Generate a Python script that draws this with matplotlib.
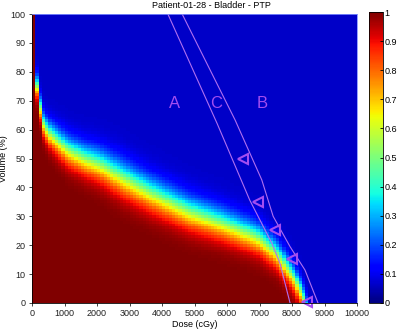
import math
import numpy as np
import matplotlib
matplotlib.use("Agg")
import matplotlib.pyplot as plt

plt.rcParams['font.family'] = ['Liberation Sans', 'DejaVu Sans']

# median DVH (50% probability), with its spread in volume
med_dose = [0, 100, 200, 300, 400, 500, 800, 1026, 1538, 2051, 2708, 3600, 4760, 5800, 6810, 6960, 7480, 7990, 8190, 8350, 8600]
med_vol = [130, 75, 67.5, 62, 60, 58.4, 55.4, 53, 50, 47.8, 43.5, 38, 31.6, 27.5, 23, 22, 17, 9, 4.5, 0, -12]
spread_dose = [0, 300, 600, 1000, 1500, 2700, 4760, 6800, 7500, 8000, 8350]
spread = [3.5, 3.8, 4.3, 4.8, 5, 5.8, 5.5, 5, 4.5, 4.2, 4]
background_level = 0.065

dose_grid = np.arange(0, 10000, 100)
vol_grid = np.arange(0, 101, 1)

# boundary lines between regions A, C and B
line1_dose = [4180, 5700, 6700, 7380, 7630, 7940]
line1_vol = [100, 62, 35.6, 20.7, 13.7, 0]
line2_dose = [4620, 6250, 7070, 7420, 7940, 8400, 8800]
line2_vol = [100, 63.3, 42.6, 30, 19.5, 11.4, 0]

# constraint markers
mark_dose = [6480, 6960, 7480, 7990, 8460]
mark_vol = [50, 35, 25.3, 15.2, 0.3]

region_labels = ['A', 'C', 'B']
label_dose = [4400, 5660, 7080]
label_vol = [69, 69, 69]

purple = '#a34df0'

erf = np.vectorize(math.erf)
v50 = np.interp(dose_grid, med_dose, med_vol)
sd = np.interp(dose_grid, spread_dose, spread)
D, V = np.meshgrid(dose_grid, vol_grid)
prob = 0.5 * (1 + erf((v50[None, :] - V) / (sd[None, :] * math.sqrt(2))))
prob = background_level + (1 - background_level) * prob

fig = plt.figure(figsize=(4, 3.29), dpi=100)
ax = fig.add_axes([32 / 400, 26 / 329, 325 / 400, 289 / 329])
# each cell spans [dose, dose + 100)
x_edges = np.append(dose_grid, dose_grid[-1] + 100)
y_edges = np.append(vol_grid - 0.5, vol_grid[-1] + 0.5)
mesh = ax.pcolormesh(x_edges, y_edges, prob, cmap='jet', vmin=0, vmax=1, shading='flat')
ax.set_xlim(0, 10000)
ax.set_ylim(0, 100)
ax.set_xticks(np.arange(0, 10001, 1000))
ax.set_yticks(np.arange(0, 101, 10))
ax.tick_params(labelsize=6.5, length=2.5, width=0.6, pad=2, colors='#222222')
for s in ['top', 'right']:
    ax.spines[s].set_color('#8090ff')
    ax.spines[s].set_linewidth(0.6)
for s in ['left', 'bottom']:
    ax.spines[s].set_linewidth(0.6)

ax.plot(line1_dose, line1_vol, color='#b070f0', lw=0.8)
ax.plot(line2_dose, line2_vol, color='#b070f0', lw=0.8)
ax.plot(mark_dose, mark_vol, linestyle='none', marker='<', markersize=7,
        markerfacecolor='none', markeredgecolor=purple, markeredgewidth=1.5, clip_on=False)
for t, x, y in zip(region_labels, label_dose, label_vol):
    ax.text(x, y, t, color=purple, fontsize=12, ha='center', va='center')

ax.set_xlabel('Dose (cGy)', fontsize=6.5, labelpad=1)
ax.set_ylabel('Volume (%)', fontsize=6.5, labelpad=2)
fig.text(211 / 400, 1 - 6 / 329, 'Patient-01-28 - Bladder - PTP', fontsize=6.5,
         ha='center', va='center')

cax = fig.add_axes([369 / 400, 26 / 329, 14 / 400, 291 / 329])
cb = fig.colorbar(mesh, cax=cax)
cb.set_ticks(np.arange(0, 1.01, 0.1))
cb.set_ticklabels(['0', '0.1', '0.2', '0.3', '0.4', '0.5', '0.6', '0.7', '0.8', '0.9', '1'])
cax.tick_params(labelsize=6.5, length=2, width=0.6, pad=1, direction='in')
cb.outline.set_linewidth(0.6)

fig.savefig('out.png', dpi=100)
